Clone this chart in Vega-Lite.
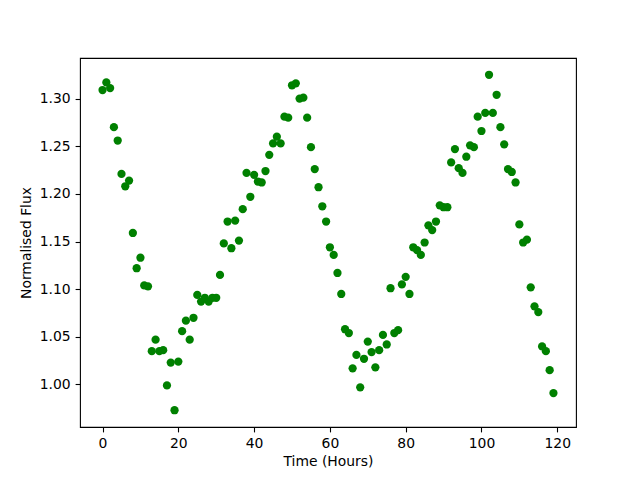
{
  "$schema": "https://vega.github.io/schema/vega-lite/v6.json",
  "width": 496,
  "height": 369,
  "autosize": {"type": "none"},
  "padding": {"left": 80, "top": 58, "right": 64, "bottom": 53},
  "background": "white",
  "config": {
    "view": {"stroke": "black", "strokeWidth": 1.1},
    "font": "DejaVu Sans",
    "axis": {
      "grid": false,
      "domain": false,
      "tickColor": "black",
      "tickSize": 4.9,
      "tickWidth": 1.1,
      "labelColor": "black",
      "labelFont": "DejaVu Sans",
      "labelFontSize": 13.9,
      "labelPadding": 4.9,
      "titleFont": "DejaVu Sans",
      "titleFontSize": 13.9,
      "titleFontWeight": "normal",
      "titleColor": "black"
    }
  },
  "data": {
    "values": [
      {"t": 0, "f": 1.309}, {"t": 1, "f": 1.317}, {"t": 2, "f": 1.311}, {"t": 3, "f": 1.270},
      {"t": 4, "f": 1.256}, {"t": 5, "f": 1.221}, {"t": 6, "f": 1.208}, {"t": 7, "f": 1.214},
      {"t": 8, "f": 1.159}, {"t": 9, "f": 1.122}, {"t": 10, "f": 1.133}, {"t": 11, "f": 1.104},
      {"t": 12, "f": 1.103}, {"t": 13, "f": 1.035}, {"t": 14, "f": 1.047}, {"t": 15, "f": 1.035},
      {"t": 16, "f": 1.036}, {"t": 17, "f": 0.999}, {"t": 18, "f": 1.023}, {"t": 19, "f": 0.973},
      {"t": 20, "f": 1.024}, {"t": 21, "f": 1.056}, {"t": 22, "f": 1.067}, {"t": 23, "f": 1.047},
      {"t": 24, "f": 1.070}, {"t": 25, "f": 1.094}, {"t": 26, "f": 1.087}, {"t": 27, "f": 1.091},
      {"t": 28, "f": 1.087}, {"t": 29, "f": 1.091}, {"t": 30, "f": 1.091}, {"t": 31, "f": 1.115},
      {"t": 32, "f": 1.148}, {"t": 33, "f": 1.171}, {"t": 34, "f": 1.143}, {"t": 35, "f": 1.172},
      {"t": 36, "f": 1.151}, {"t": 37, "f": 1.184}, {"t": 38, "f": 1.222}, {"t": 39, "f": 1.197},
      {"t": 40, "f": 1.220}, {"t": 41, "f": 1.213}, {"t": 42, "f": 1.212}, {"t": 43, "f": 1.224},
      {"t": 44, "f": 1.241}, {"t": 45, "f": 1.253}, {"t": 46, "f": 1.260}, {"t": 47, "f": 1.253},
      {"t": 48, "f": 1.281}, {"t": 49, "f": 1.280}, {"t": 50, "f": 1.314}, {"t": 51, "f": 1.316},
      {"t": 52, "f": 1.300}, {"t": 53, "f": 1.301}, {"t": 54, "f": 1.280}, {"t": 55, "f": 1.249},
      {"t": 56, "f": 1.226}, {"t": 57, "f": 1.207}, {"t": 58, "f": 1.187}, {"t": 59, "f": 1.171},
      {"t": 60, "f": 1.144}, {"t": 61, "f": 1.136}, {"t": 62, "f": 1.117}, {"t": 63, "f": 1.095},
      {"t": 64, "f": 1.058}, {"t": 65, "f": 1.054}, {"t": 66, "f": 1.017}, {"t": 67, "f": 1.031},
      {"t": 68, "f": 0.997}, {"t": 69, "f": 1.027}, {"t": 70, "f": 1.045}, {"t": 71, "f": 1.034},
      {"t": 72, "f": 1.018}, {"t": 73, "f": 1.036}, {"t": 74, "f": 1.052}, {"t": 75, "f": 1.042},
      {"t": 76, "f": 1.101}, {"t": 77, "f": 1.054}, {"t": 78, "f": 1.057}, {"t": 79, "f": 1.105},
      {"t": 80, "f": 1.113}, {"t": 81, "f": 1.095}, {"t": 82, "f": 1.144}, {"t": 83, "f": 1.141},
      {"t": 84, "f": 1.136}, {"t": 85, "f": 1.149}, {"t": 86, "f": 1.167}, {"t": 87, "f": 1.162},
      {"t": 88, "f": 1.171}, {"t": 89, "f": 1.188}, {"t": 90, "f": 1.186}, {"t": 91, "f": 1.186},
      {"t": 92, "f": 1.233}, {"t": 93, "f": 1.247}, {"t": 94, "f": 1.227}, {"t": 95, "f": 1.222},
      {"t": 96, "f": 1.239}, {"t": 97, "f": 1.251}, {"t": 98, "f": 1.249}, {"t": 99, "f": 1.281},
      {"t": 100, "f": 1.266}, {"t": 101, "f": 1.285}, {"t": 102, "f": 1.325}, {"t": 103, "f": 1.285},
      {"t": 104, "f": 1.304}, {"t": 105, "f": 1.270}, {"t": 106, "f": 1.252}, {"t": 107, "f": 1.226},
      {"t": 108, "f": 1.223}, {"t": 109, "f": 1.212}, {"t": 110, "f": 1.168}, {"t": 111, "f": 1.149},
      {"t": 112, "f": 1.152}, {"t": 113, "f": 1.102}, {"t": 114, "f": 1.082}, {"t": 115, "f": 1.076},
      {"t": 116, "f": 1.040}, {"t": 117, "f": 1.035}, {"t": 118, "f": 1.015}, {"t": 119, "f": 0.991}
    ]
  },
  "mark": {"type": "circle", "color": "#008000", "opacity": 1, "size": 68},
  "encoding": {
    "x": {
      "field": "t",
      "type": "quantitative",
      "scale": {"domain": [-5.95, 124.95], "nice": false, "zero": false},
      "axis": {"title": "Time (Hours)", "values": [0, 20, 40, 60, 80, 100, 120], "titlePadding": 4}
    },
    "y": {
      "field": "f",
      "type": "quantitative",
      "scale": {"domain": [0.9554, 1.3426], "nice": false, "zero": false},
      "axis": {"title": "Normalised Flux", "values": [1.0, 1.05, 1.1, 1.15, 1.2, 1.25, 1.3], "format": ".2f", "titlePadding": 6}
    }
  }
}
